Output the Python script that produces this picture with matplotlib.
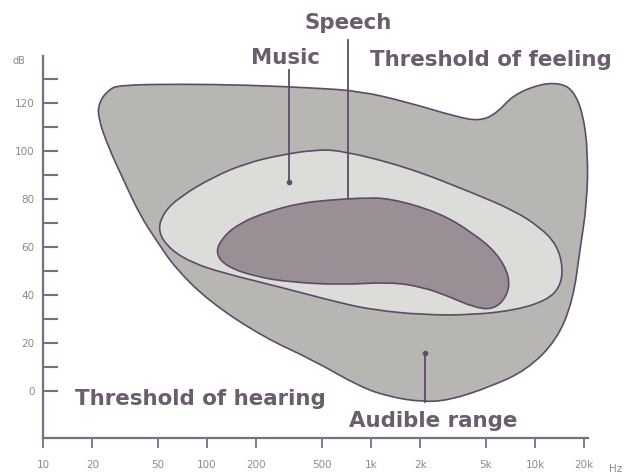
import matplotlib
matplotlib.use('Agg')
import matplotlib.pyplot as plt
import numpy as np
from matplotlib.path import Path
from matplotlib.patches import PathPatch

# outlines: (frequency Hz, level dB), clockwise
audible_hz = [22, 25, 29, 68, 175, 443, 857, 1658, 3343, 4620, 5865, 7345, 10720,
              14200, 17060, 19630, 21040, 20750, 18800, 17060, 13620, 8940, 5320,
              3030, 2075, 1306, 857, 443, 220, 104, 64, 49, 39, 31, 25, 21.6]
audible_db = [120.4, 125.4, 127.5, 127.9, 127.5, 126.3, 125, 120.4, 114.2, 112.5, 115.8,
              123.3, 127.9, 128.3, 125.4, 115.8, 99.2, 78.3, 58.8, 37.9, 21.3, 8.8, 1.7,
              -3.8, -4.6, -2.5, 1.7, 12.9, 22.5, 37.1, 51.2, 62.9, 73.3, 87.9, 101.7, 114.2]

music_hz = [50, 54, 68, 109, 175, 279, 443, 647, 1658, 4190, 7345, 10720, 13620,
            14820, 14200, 11830, 7770, 4190, 2075, 1030, 647, 279, 125, 82, 60]
music_db = [66.3, 74.2, 80.8, 89.2, 95, 98.3, 100.4, 100.4, 93.3, 82.5, 75.4, 68.3,
            60.8, 51.3, 43.3, 37.9, 33.8, 31.7, 31.7, 33.8, 36.7, 43.3, 49.2, 53.3, 58.8]

speech_hz = [112, 125, 159, 232, 369, 562, 857, 1306, 2636, 4190, 5865, 7040, 6750,
             5545, 4190, 3030, 2075, 1306, 647, 321, 202, 132]
speech_db = [57.5, 64.2, 70, 74.6, 78.3, 79.6, 80.4, 80.4, 74.2, 65.8, 57.5, 47.5, 39.2,
             33.8, 35, 39.2, 43.3, 45.4, 44.2, 45.4, 47.5, 51.7]

x_ticks = [10, 20, 50, 100, 200, 500, 1000, 2000, 5000, 10000, 20000]
x_labels = ['10', '20', '50', '100', '200', '500', '1k', '2k', '5k', '10k', '20k']
y_major = [0, 20, 40, 60, 80, 100, 120]
y_minor = [10, 30, 50, 70, 90, 110, 130]

EDGE = '#5e4b69'
TEXT = '#6b5d6e'
AXIS = '#7b6d82'
TICKTXT = '#8e8792'


def blob(hz, db):
    """Closed smooth outline: points are quadratic control points, midpoints on-curve."""
    lx = np.log10(hz)
    y = np.asarray(db, dtype=float)
    mx = (lx + np.roll(lx, -1)) / 2
    my = (y + np.roll(y, -1)) / 2
    verts = [(10 ** mx[-1], my[-1])]
    codes = [Path.MOVETO]
    for i in range(len(lx)):
        verts += [(10 ** lx[i], y[i]), (10 ** mx[i], my[i])]
        codes += [Path.CURVE3, Path.CURVE3]
    verts.append(verts[0])
    codes.append(Path.CLOSEPOLY)
    return Path(verts, codes)


fig = plt.figure(figsize=(6.24, 4.74), dpi=100)
ax = fig.add_axes([43 / 624, 36 / 474, 545 / 624, 382 / 474])
ax.set_xscale('log')
ax.set_xlim(10, 21050)
ax.set_ylim(-19.6, 139.6)

for hz, db, fill in [(audible_hz, audible_db, '#b7b6b2'),
                     (music_hz, music_db, '#dcddd9'),
                     (speech_hz, speech_db, '#9b8f96')]:
    ax.add_patch(PathPatch(blob(hz, db), facecolor=fill, edgecolor=EDGE, lw=1.2,
                           clip_on=False))

# pointer lines
ax.plot([316, 316], [133.8, 87.1], color=EDGE, lw=1.3, clip_on=False)
ax.plot([316], [87.1], 'o', ms=3, color=EDGE)
ax.plot([724, 724], [146.3, 80.4], color=EDGE, lw=1.3, clip_on=False)
ax.plot([2134, 2134], [15.8, -4.6], color=EDGE, lw=1.3)
ax.plot([2134], [15.8], 'o', ms=3, color=EDGE)

fnt = dict(family='DejaVu Sans', weight='bold', color=TEXT, fontsize=15.4,
           va='baseline', clip_on=False)
ax.text(724, 150.8, 'Speech', ha='center', **fnt)
ax.text(299, 136.3, 'Music', ha='center', **fnt)
ax.text(980, 135.4, 'Threshold of feeling', ha='left', **fnt)
ax.text(15.7, -5.8, 'Threshold of hearing', ha='left', **fnt)
ax.text(2388, -15, 'Audible range', ha='center', **fnt)

for side in ['top', 'right']:
    ax.spines[side].set_visible(False)
for side in ['left', 'bottom']:
    ax.spines[side].set_color(AXIS)
    ax.spines[side].set_linewidth(1.6)

ax.set_xticks(x_ticks)
ax.set_xticklabels(x_labels)
ax.xaxis.set_minor_locator(matplotlib.ticker.NullLocator())
ax.tick_params(axis='x', which='major', direction='out', length=7.5, width=1.3,
               color=AXIS, labelsize=7.5, labelcolor=TICKTXT, pad=8)
ax.set_yticks(y_major)
ax.set_yticks(y_minor, minor=True)
ax.tick_params(axis='y', which='both', direction='in', length=11, width=1.5,
               color=AXIS, labelsize=7.5, labelcolor=TICKTXT, pad=6)
ax.text(-0.045, 137.5, 'dB', transform=ax.get_yaxis_transform(), ha='center',
        va='center', fontsize=7, color=TICKTXT)
ax.text(1.05, -0.08, 'Hz', transform=ax.transAxes, ha='center', va='center',
        fontsize=7.5, color=TICKTXT)

fig.savefig('out.png', dpi=100)
